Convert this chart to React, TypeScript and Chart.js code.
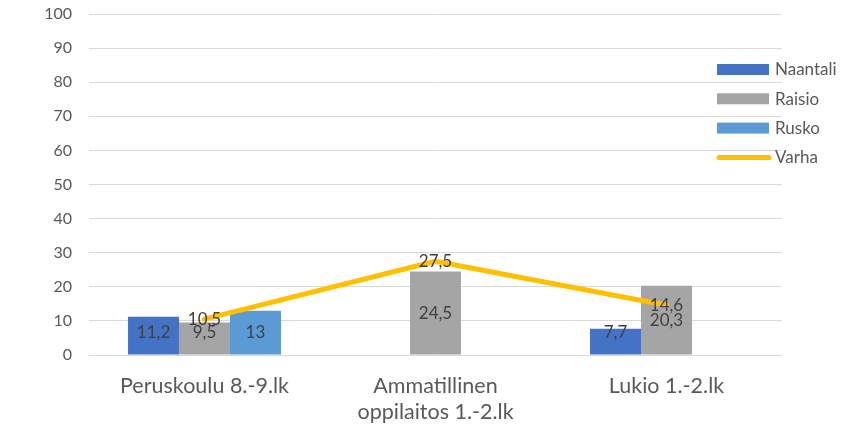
import { useEffect, useRef } from "react";
import { Chart, registerables } from "chart.js";

Chart.register(...registerables);

const categories: (string | string[])[] = [
  "Peruskoulu 8.-9.lk",
  ["Ammatillinen", "oppilaitos 1.-2.lk"],
  "Lukio 1.-2.lk",
];
const naantali: (number | null)[] = [11.2, null, 7.7];
const raisio: (number | null)[] = [9.5, 24.5, 20.3];
const rusko: (number | null)[] = [13, null, null];
const varha: number[] = [10.5, 27.5, 14.6];
const yMin = 0;
const yMax = 100;
const yStep = 10;

const FONT = "Lato, 'Open Sans', sans-serif";
const fmt = (v: number) => String(v).replace(".", ",");

const dataLabelPlugin = {
  id: "dataLabels",
  afterDatasetsDraw(chart: any) {
    const ctx = chart.ctx;
    const base = chart.scales.y.getPixelForValue(0);
    ctx.save();
    ctx.font = `17px ${FONT}`;
    ctx.fillStyle = "#404040";
    ctx.textAlign = "center";
    ctx.textBaseline = "middle";
    chart.data.datasets.forEach((ds: any, i: number) => {
      const meta = chart.getDatasetMeta(i);
      meta.data.forEach((el: any, j: number) => {
        const v = ds.data[j];
        if (v === null || v === undefined) return;
        let y: number;
        if (ds.type === "line") {
          y = el.y;
        } else {
          y = Math.min((el.y + base) / 2, base - 22);
        }
        ctx.fillText(fmt(v), el.x, y);
      });
    });
    ctx.restore();
  },
};

const legendPlugin = {
  id: "overlayLegend",
  afterDraw(chart: any) {
    const ctx = chart.ctx;
    const x0 = 717;
    const w = 52;
    const y0 = 69.5;
    const step = 29.3;
    ctx.save();
    ctx.font = `17px ${FONT}`;
    ctx.textAlign = "left";
    ctx.textBaseline = "middle";
    chart.data.datasets.forEach((ds: any, i: number) => {
      const cy = y0 + i * step;
      if (ds.type === "line") {
        ctx.strokeStyle = ds.borderColor;
        ctx.lineWidth = 5;
        ctx.lineCap = "round";
        ctx.beginPath();
        ctx.moveTo(x0 + 2, cy);
        ctx.lineTo(x0 + w, cy);
        ctx.stroke();
      } else {
        ctx.fillStyle = ds.backgroundColor;
        ctx.fillRect(x0, cy - 5.5, w, 11);
      }
      ctx.fillStyle = "#595959";
      ctx.fillText(ds.label, x0 + w + 6, cy + 0.5);
    });
    ctx.restore();
  },
};

export default function App() {
  const ref = useRef<HTMLCanvasElement | null>(null);

  useEffect(() => {
    document.body.style.margin = "0";
    const canvas = ref.current;
    if (!canvas) return;
    const chart = new Chart(canvas, {
      type: "bar",
      data: {
        labels: categories,
        datasets: [
          { type: "bar", label: "Naantali", data: naantali, backgroundColor: "#4472C4", order: 1 },
          { type: "bar", label: "Raisio", data: raisio, backgroundColor: "#A5A5A5", order: 1 },
          { type: "bar", label: "Rusko", data: rusko, backgroundColor: "#5B9BD5", order: 1 },
          {
            type: "line",
            label: "Varha",
            data: varha,
            borderColor: "#FFC000",
            backgroundColor: "#FFC000",
            borderWidth: 5,
            pointRadius: 0,
            borderCapStyle: "round",
            borderJoinStyle: "round",
            order: 0,
          },
        ] as any,
      },
      options: {
        responsive: false,
        animation: false,
        layout: { padding: { top: 14, right: 64, left: 0, bottom: 0 } },
        datasets: {
          bar: { categoryPercentage: 0.662, barPercentage: 1 },
        } as any,
        plugins: {
          legend: { display: false },
          tooltip: { enabled: false },
        },
        scales: {
          x: {
            grid: { display: false, drawTicks: false },
            border: { display: false },
            ticks: {
              color: "#595959",
              font: { family: FONT, size: 21.5, lineHeight: 26 / 21.5 },
              padding: 18,
              maxRotation: 0,
              autoSkip: false,
            },
            afterFit(scale: any) {
              scale.height = 73;
              scale.paddingLeft = 0;
              scale.paddingRight = 0;
            },
          },
          y: {
            min: yMin,
            max: yMax,
            grid: { color: "#D9D9D9", lineWidth: 1, drawTicks: false },
            border: { display: false },
            ticks: {
              stepSize: yStep,
              color: "#595959",
              font: { family: FONT, size: 16 },
              padding: 17,
            },
            afterFit(scale: any) {
              scale.width = 89;
              scale.paddingTop = 0;
              scale.paddingBottom = 0;
            },
          },
        },
      },
      plugins: [dataLabelPlugin, legendPlugin],
    });
    return () => chart.destroy();
  }, []);

  return (
    <div style={{ width: 846, height: 428 }}>
      <canvas ref={ref} width={846} height={428} style={{ display: "block" }} />
    </div>
  );
}
